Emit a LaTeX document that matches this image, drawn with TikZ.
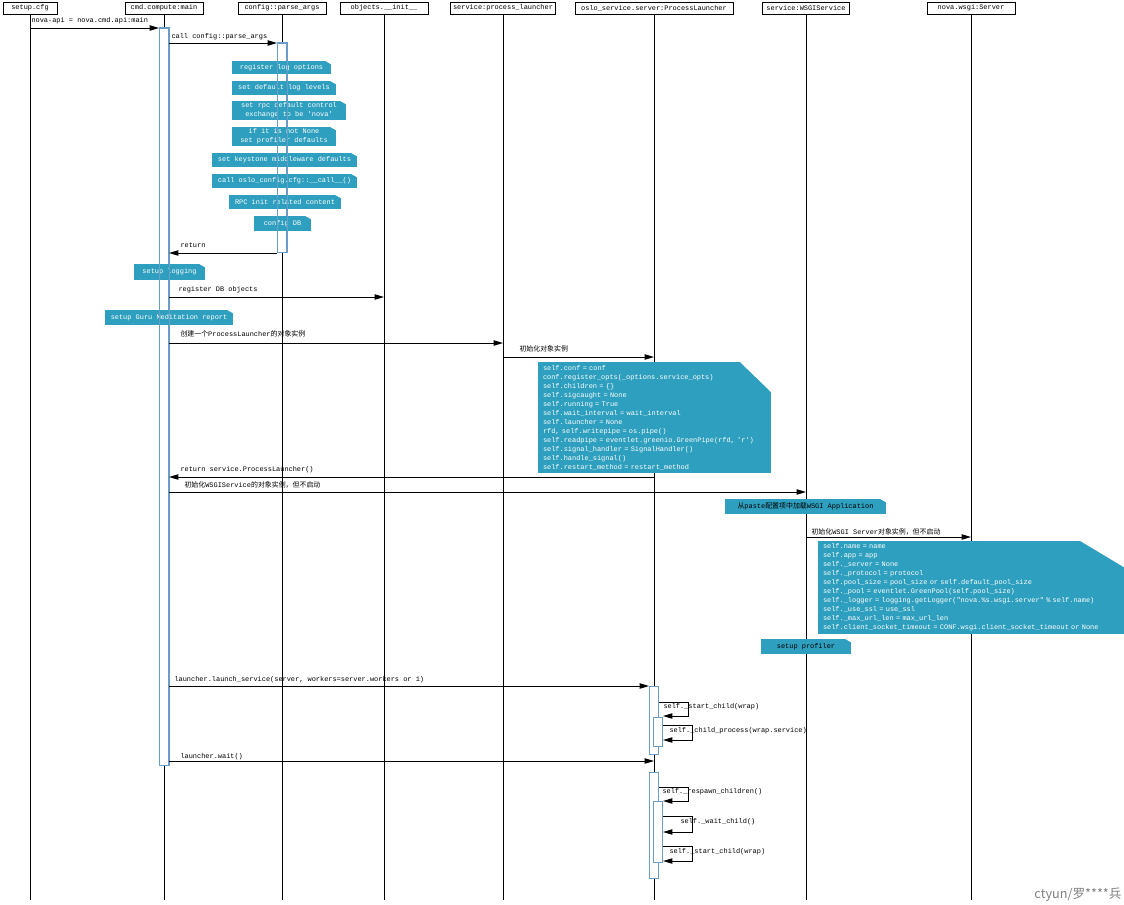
\documentclass[tikz,border=0pt]{standalone}
\usepackage{fontspec}
\setmonofont{Liberation Mono}
\newfontfamily\cjk{Noto Sans CJK SC}
\usetikzlibrary{arrows.meta}
\definecolor{notecol}{RGB}{46,159,190}
\definecolor{actcol}{RGB}{106,158,200}
\tikzset{every picture/.style={line width=0.75pt},
  seqfont/.style={font=\ttfamily\fontsize{5.2pt}{6.75pt}\selectfont},
  head/.style={draw, seqfont, inner sep=0pt, minimum height=9pt},
  act/.style={draw=actcol, fill=white, inner sep=0pt, minimum width=6.75pt},
  msg/.style={-{Triangle[length=7pt,width=4pt]}},
  lbl/.style={seqfont, anchor=west, inner sep=0pt},
  note/.style={fill=notecol, text=white, seqfont, inner sep=0pt, align=center},
  bignote/.style={fill=notecol, text=white, seqfont, inner xsep=3.75pt, inner ysep=0pt, align=left}
}

\begin{document}
\begin{tikzpicture}[x=0.75pt,y=0.75pt,yscale=-1,xscale=1]
	\useasboundingbox (0,0) rectangle (1124,904);

	% Heads
	\node[head, minimum width=40.5pt] (hcfg) at (30,8) {setup.cfg};
	\node[head, minimum width=58.5pt] (hmain) at (164,8) {cmd.compute:main};
	\node[head, minimum width=66pt] (hargs) at (282,8) {config::parse\_args};
	\node[head, minimum width=66pt] (hobj) at (384,8) {objects.\_\_init\_\_};
	\node[head, minimum width=78.75pt] (hpl) at (503,8) {service:process\_launcher};
	\node[head, minimum width=118.5pt] (hpls) at (654,8) {oslo\_service.server:ProcessLauncher};
	\node[head, minimum width=65.25pt] (hws) at (806,8) {service:WSGIService};
	\node[head, minimum width=66pt] (hsrv) at (971,8) {nova.wsgi:Server};

	% Lifelines
	\coordinate (floor) at (0,900);
	\foreach \h in {hcfg,hmain,hargs,hobj,hpl,hpls,hws,hsrv}
		\draw (\h.south) -- (\h.south |- floor);

	% Activations
	\node[act, minimum height=552.75pt] (bmain) at (164,396.5) {};
	\node[act, minimum height=156.75pt] (bargs) at (282,147.5) {};
	\node[act, minimum height=51pt] (bpl1) at (654,720) {};
	\node[act, minimum height=21.75pt] (bpl1b) at (658,731.5) {};
	\node[act, minimum height=79.5pt] (bpl2) at (654,825) {};
	\node[act, minimum height=45.75pt] (bpl2b) at (658,831.5) {};

	% Notes
	\node[note, minimum width=74.25pt, minimum height=9.75pt] (n1) at (281.5,67.5) {register log options};
	\node[note, minimum width=78pt, minimum height=10.5pt] (n2) at (284,88) {set default log levels};
	\node[note, minimum width=85.5pt, minimum height=14.25pt] (n3) at (289,110.5) {set rpc default control\\exchange to be 'nova'};
	\node[note, minimum width=78pt, minimum height=14.25pt] (n4) at (284,136.5) {if it is not None\\set profiler defaults};
	\node[note, minimum width=108.75pt, minimum height=10.5pt] (n5) at (284.5,160) {set keystone middleware defaults};
	\node[note, minimum width=108.75pt, minimum height=10.5pt] (n6) at (284.5,181) {call oslo\_config.cfg::\_\_call\_\_()};
	\node[note, minimum width=84pt, minimum height=10.5pt] (n7) at (285,202) {RPC init related content};
	\node[note, minimum width=42.75pt, minimum height=11.25pt] (n8) at (282.5,223.5) {config DB};
	\node[note, minimum width=53.25pt, minimum height=12pt] (n9) at (169.5,272) {setup logging};
	\node[note, minimum width=96pt, minimum height=11.25pt] (n10) at (169,317.5) {setup Guru Meditation report};
	\node[bignote, text width=167.25pt, minimum height=83.25pt] (n11) at (654.5,417.5) {self.conf = conf\\
		conf.register\_opts(\_options.service\_opts)\\
		self.children = \{\}\\
		self.sigcaught = None\\
		self.running = True\\
		self.wait\_interval = wait\_interval\\
		self.launcher = None\\
		rfd, self.writepipe = os.pipe()\\
		self.readpipe = eventlet.greenio.GreenPipe(rfd, 'r')\\
		self.signal\_handler = SignalHandler()\\
		self.handle\_signal()\\
		self.restart\_method = restart\_method};
	\node[note, text=black, minimum width=120.75pt, minimum height=11.25pt] (n12) at (805.5,506.5) {{\cjk 从}paste{\cjk 配置项中加载}WSGI Application};
	\node[bignote, text width=222pt, minimum height=69.75pt] (n13) at (971,587.5) {self.name = name\\
		self.app = app\\
		self.\_server = None\\
		self.\_protocol = protocol\\
		self.pool\_size = pool\_size or self.default\_pool\_size\\
		self.\_pool = eventlet.GreenPool(self.pool\_size)\\
		self.\_logger = logging.getLogger("nova.\%s.wsgi.server" \% self.name)\\
		self.\_use\_ssl = use\_ssl\\
		self.\_max\_url\_len = max\_url\_len\\
		self.client\_socket\_timeout = CONF.wsgi.client\_socket\_timeout or None};
	\node[note, text=black, minimum width=67.5pt, minimum height=11.25pt] (n14) at (806,646.5) {setup profiler};

	% folded corners
	\foreach \n/\a/\b in {n1/7/4,n2/7/4,n3/7/4,n4/7/4,n5/7/4,n6/7/4,n7/7/4,n8/7/4,n9/7/4,n10/7/4,n11/32/31,n12/7/4,n13/45/27,n14/7/4}
		\fill[white] (\n.north east) -- ++(-\a,0) -- ++(\a,\b) -- cycle;
	\foreach \b in {bmain,bargs}
		\draw[actcol] (\b.north west) rectangle (\b.south east);

	% Messages
	\draw[msg] (hcfg.south |- 0,28) -- (bmain.west |- 0,28);
	\draw[msg] (bmain.east |- 0,43) -- (bargs.west |- 0,43);
	\draw[msg] (bargs.west |- 0,253) -- (bmain.east |- 0,253);
	\draw[msg] (bmain.east |- 0,297) -- (hobj.south |- 0,297);
	\draw[msg] (bmain.east |- 0,343) -- (hpl.south |- 0,343);
	\draw[msg] (hpl.south |- 0,357) -- (hpls.south |- 0,357);
	\draw[msg] (hpls.south |- 0,477) -- (bmain.east |- 0,477);
	\draw[msg] (bmain.east |- 0,492) -- (hws.south |- 0,492);
	\draw[msg] (hws.south |- 0,537) -- (hsrv.south |- 0,537);
	\draw[msg] (bmain.east |- 0,686) -- (bpl1.west |- 0,686);
	\draw[msg] (bpl1.east |- 0,702) -- ++(29,0) |- (bpl1b.east |- 0,716);
	\draw[msg] (bpl1b.east |- 0,725) -- ++(29,0) |- (bpl1b.east |- 0,740);
	\draw[msg] (bmain.east |- 0,761) -- (hpls.south |- 0,761);
	\draw[msg] (bpl2.east |- 0,787) -- ++(29,0) |- (bpl2b.east |- 0,801);
	\draw[msg] (bpl2b.east |- 0,816) -- ++(29,0) |- (bpl2b.east |- 0,832);
	\draw[msg] (bpl2b.east |- 0,846) -- ++(29,0) |- (bpl2b.east |- 0,861);

	% Text Node
	\node[lbl] (l1) at (31,21) {nova-api = nova.cmd.api:main};
	\node[lbl] (l2) at (171,37) {call config::parse\_args};
	\node[lbl] (l3) at (180,245) {return};
	\node[lbl] (l4) at (178,290) {register DB objects};
	\node[lbl] (l5) at (180,334) {{\cjk 创建一个}ProcessLauncher{\cjk 的对象实例}};
	\node[lbl] (l6) at (519,349) {\cjk 初始化对象实例};
	\node[lbl] (l7) at (180,470) {return service.ProcessLauncher()};
	\node[lbl] (l8) at (184,485) {{\cjk 初始化}WSGIService{\cjk 的对象实例，但不启动}};
	\node[lbl] (l9) at (811,532) {{\cjk 初始化}WSGI Server{\cjk 对象实例，但不启动}};
	\node[lbl] (l10) at (174,680) {launcher.launch\_service(server, workers=server.workers or 1)};
	\node[lbl] (l11) at (663,707) {self.\_start\_child(wrap)};
	\node[lbl] (l12) at (669,731) {self.\_child\_process(wrap.service)};
	\node[lbl] (l13) at (180,757) {launcher.wait()};
	\node[lbl] (l14) at (662,792) {self.\_respawn\_children()};
	\node[lbl] (l15) at (680,822) {self.\_wait\_child()};
	\node[lbl] (l16) at (669,852) {self.\_start\_child(wrap)};

	% mark
	\node[text=gray, font=\cjk\fontsize{9.5pt}{11pt}\selectfont, anchor=east, inner sep=0pt] (mark) at (1122,895) {ctyun/罗****兵};

\end{tikzpicture}
\end{document}
